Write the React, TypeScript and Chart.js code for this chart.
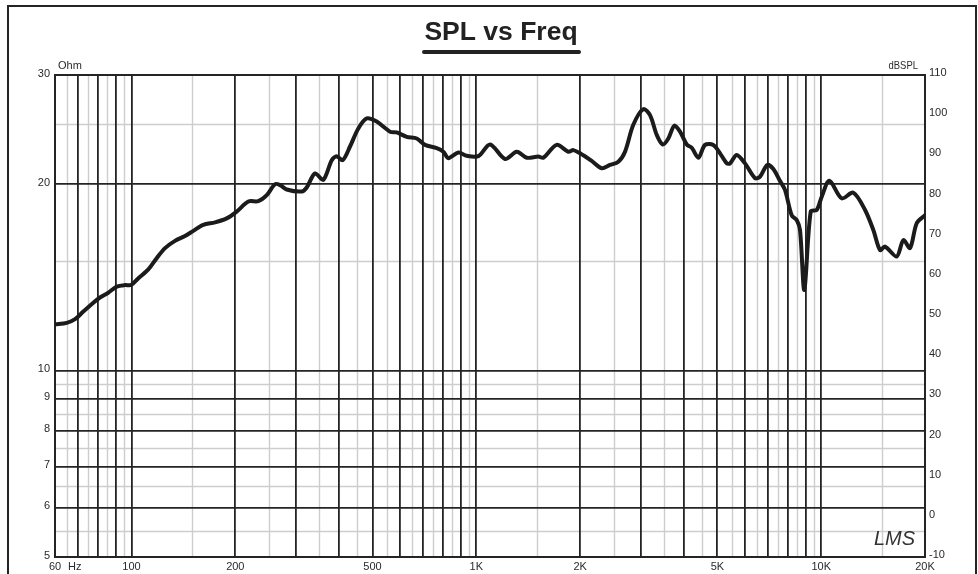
import React, { useEffect, useRef } from 'react';
import { Chart, registerables } from 'chart.js';

Chart.register(...registerables);

// ---- data ----
const FREQ_HZ = [
  60, 64.9, 68.6, 72.5, 77.5, 81, 85.6, 90.6, 95.8, 99.7,
  104.7, 111.9, 118.3, 125.1, 133.7, 142.9, 151.1, 161.5, 174.7, 188.8,
  201.8, 218.2, 233.2, 246.7, 260.7, 269.6, 281.9, 311.6, 322.2, 340.5,
  359.9, 380.8, 393.7, 409.7, 430.2, 454.7, 480.9, 514.1, 561.9, 587.6,
  628.2, 671.6, 709.8, 767.5, 802.1, 829.3, 886.6, 937.7, 1014, 1096,
  1211, 1310, 1400, 1513, 1564, 1710, 1848, 1911, 1998, 2160,
  2309, 2441, 2581, 2699, 2852, 3050, 3189, 3335, 3471, 3604,
  3751, 3896, 4075, 4213, 4403, 4604, 4867, 5090, 5323, 5441,
  5690, 6014, 6430, 6648, 6979, 7266, 7597, 7853, 8212, 8491,
  8681, 8935, 9325, 9705, 10036, 10561, 11467, 12396, 13404, 14166,
  14812, 15316, 16561, 17310, 18100, 18922, 20000,
];
const SPL_DB = [
  47.9, 48.3, 49.2, 51.1, 53.3, 54.6, 55.8, 57.3, 57.7, 57.7,
  59.4, 61.6, 64.4, 66.9, 68.7, 69.9, 71.2, 72.7, 73.3, 74.3,
  76.0, 78.5, 78.6, 80.1, 82.8, 82.6, 81.5, 81.0, 82.0, 85.5,
  83.9, 88.8, 89.8, 88.8, 92.2, 96.7, 99.2, 98.4, 95.9, 95.7,
  94.6, 94.2, 92.6, 91.8, 90.9, 89.3, 90.7, 89.9, 89.8, 92.7,
  89.1, 90.9, 89.4, 89.7, 89.4, 92.6, 90.9, 91.3, 90.5, 88.6,
  86.8, 87.6, 88.4, 90.9, 97.6, 101.5, 100.0, 95.1, 92.7, 94.2,
  97.4, 95.9, 92.7, 91.9, 89.4, 92.6, 92.6, 90.5, 88.0, 88.0,
  90.1, 88.0, 84.3, 84.7, 87.6, 86.6, 83.6, 81.4, 75.1, 73.9,
  71.4, 56.5, 76.0, 76.4, 79.7, 83.7, 79.3, 80.7, 76.4, 71.4,
  66.4, 67.3, 64.8, 68.9, 66.9, 73.1, 75.1,
];

const X_MIN = 60;
const X_MAX = 20000;
const X_MAJOR = [60, 70, 80, 90, 100, 200, 300, 400, 500, 600, 700, 800, 900, 1000,
  2000, 3000, 4000, 5000, 6000, 7000, 8000, 9000, 10000, 20000];
const X_MINOR = [65, 75, 85, 95, 150, 250, 350, 450, 550, 650, 750, 850, 950,
  1500, 2500, 3500, 4500, 5500, 6500, 7500, 8500, 9500, 15000];
const X_LABEL_VALUES = [60, 100, 200, 500, 1000, 2000, 5000, 10000, 20000];
const X_LABEL_TEXT = ['60', '100', '200', '500', '1K', '2K', '5K', '10K', '20K'];
const X_UNIT = 'Hz';

const OHM_MIN = 5;
const OHM_MAX = 30;
const OHM_MAJOR = [5, 6, 7, 8, 9, 10, 20, 30];
const OHM_MINOR = [5.5, 6.5, 7.5, 8.5, 9.5, 15, 25];
const OHM_LABELS = ['5', '6', '7', '8', '9', '10', '20', '30'];
const OHM_UNIT = 'Ohm';

const DB_MIN = -10;
const DB_MAX = 110;
const DB_STEP = 10;
const DB_UNIT = 'dBSPL';

const TITLE = 'SPL vs Freq';
const LOGO = 'LMS';

// ---- styles ----
const FONT = '"Liberation Sans", Arial, Helvetica, sans-serif';
const DARK = '#242424';
const MINOR = '#cdcdcd';
const TEXT = '#2a2a2a';

const decor = {
  id: 'decor',
  beforeDraw(chart: any) {
    const { ctx, chartArea } = chart;
    const xs = chart.scales.x;
    const ys = chart.scales.y;
    ctx.save();
    ctx.strokeStyle = MINOR;
    ctx.lineWidth = 1.4;
    ctx.beginPath();
    X_MINOR.forEach((v) => {
      const p = Math.round(xs.getPixelForValue(v)) + 0.5;
      ctx.moveTo(p, chartArea.top);
      ctx.lineTo(p, chartArea.bottom);
    });
    OHM_MINOR.forEach((v) => {
      const p = Math.round(ys.getPixelForValue(v)) + 0.5;
      ctx.moveTo(chartArea.left, p);
      ctx.lineTo(chartArea.right, p);
    });
    ctx.stroke();
    ctx.restore();
  },
  afterDraw(chart: any) {
    const { ctx, chartArea } = chart;
    const xs = chart.scales.x;
    ctx.save();
    // outer frame
    ctx.fillStyle = DARK;
    ctx.fillRect(7, 5, 2, 600);
    ctx.fillRect(7, 5, 970, 2);
    ctx.fillRect(975, 5, 2, 600);

    // title
    ctx.fillStyle = '#222';
    ctx.font = `bold 26.5px ${FONT}`;
    ctx.textAlign = 'center';
    ctx.textBaseline = 'alphabetic';
    ctx.fillText(TITLE, 501, 40);
    ctx.strokeStyle = '#222';
    ctx.lineWidth = 4;
    ctx.lineCap = 'round';
    ctx.beginPath();
    ctx.moveTo(424, 52);
    ctx.lineTo(579, 52);
    ctx.stroke();

    // axis units
    ctx.fillStyle = TEXT;
    ctx.font = `11px ${FONT}`;
    ctx.textAlign = 'left';
    ctx.fillText(OHM_UNIT, chartArea.left + 3, chartArea.top - 6);
    ctx.save();
    ctx.translate(chartArea.right - 7, chartArea.top - 6);
    ctx.scale(0.86, 1);
    ctx.textAlign = 'right';
    ctx.fillText(DB_UNIT, 0, 0);
    ctx.restore();

    // "Hz" after the first frequency label
    ctx.textAlign = 'left';
    ctx.textBaseline = 'middle';
    ctx.fillText(X_UNIT, xs.getPixelForValue(X_MIN) + 13, chartArea.bottom + 9.5);

    // logo
    ctx.font = `italic 20px ${FONT}`;
    ctx.textBaseline = 'alphabetic';
    ctx.fillStyle = '#333';
    ctx.fillText(LOGO, 874, 545);
    ctx.restore();
  },
};

export default function App() {
  const ref = useRef<HTMLCanvasElement | null>(null);

  useEffect(() => {
    if (!ref.current) return;
    const tickFont = { family: FONT, size: 11 };
    const chart = new Chart(ref.current, {
      type: 'line',
      data: {
        datasets: [
          {
            data: FREQ_HZ.map((f, i) => ({ x: f, y: SPL_DB[i] })),
            yAxisID: 'y2',
            borderColor: '#1b1b1b',
            borderWidth: 4,
            pointRadius: 0,
            tension: 0.3,
            fill: false,
            borderJoinStyle: 'round',
            borderCapStyle: 'round',
          },
        ],
      },
      options: {
        animation: false,
        responsive: false,
        maintainAspectRatio: false,
        events: [],
        layout: { padding: { top: 75, left: 0, right: 0, bottom: 0 } },
        plugins: {
          legend: { display: false },
          tooltip: { enabled: false },
          title: { display: false },
        },
        scales: {
          x: {
            type: 'logarithmic',
            position: 'bottom',
            min: X_MIN,
            max: X_MAX,
            afterBuildTicks: (s: any) => {
              s.ticks = X_MAJOR.map((v) => ({ value: v }));
            },
            afterFit: (s: any) => {
              s.height = 17;
            },
            ticks: {
              autoSkip: false,
              maxRotation: 0,
              padding: 3,
              color: TEXT,
              font: tickFont,
              callback: (v: any) => {
                const i = X_LABEL_VALUES.indexOf(Number(v));
                return i >= 0 ? X_LABEL_TEXT[i] : '';
              },
            },
            grid: { color: DARK, lineWidth: 1.8, drawTicks: false },
            border: { display: true, color: DARK, width: 2 },
          },
          y: {
            type: 'logarithmic',
            position: 'left',
            min: OHM_MIN,
            max: OHM_MAX,
            afterBuildTicks: (s: any) => {
              s.ticks = OHM_MAJOR.map((v) => ({ value: v }));
            },
            afterFit: (s: any) => {
              s.width = 55;
            },
            ticks: {
              autoSkip: false,
              padding: 5,
              labelOffset: -1.5,
              color: TEXT,
              font: tickFont,
              callback: (v: any) => {
                const i = OHM_MAJOR.indexOf(Number(v));
                return i >= 0 ? OHM_LABELS[i] : '';
              },
            },
            grid: {
              color: DARK,
              lineWidth: (c: any) => (c.tick && c.tick.value === OHM_MAX ? 2 : 1.8),
              drawTicks: false,
            },
            border: { display: true, color: DARK, width: 2 },
          },
          y2: {
            type: 'linear',
            position: 'right',
            min: DB_MIN,
            max: DB_MAX,
            afterFit: (s: any) => {
              s.width = 53;
            },
            ticks: {
              stepSize: DB_STEP,
              padding: 4,
              labelOffset: -2,
              color: TEXT,
              font: tickFont,
            },
            grid: { display: false, drawTicks: false },
            border: { display: true, color: DARK, width: 2 },
          },
        },
      },
      plugins: [decor],
    } as any);
    return () => chart.destroy();
  }, []);

  return (
    <div style={{ position: 'absolute', left: 0, top: 0, width: 978, height: 574, background: '#fff' }}>
      <canvas ref={ref} width={978} height={574} style={{ display: 'block' }} />
    </div>
  );
}
